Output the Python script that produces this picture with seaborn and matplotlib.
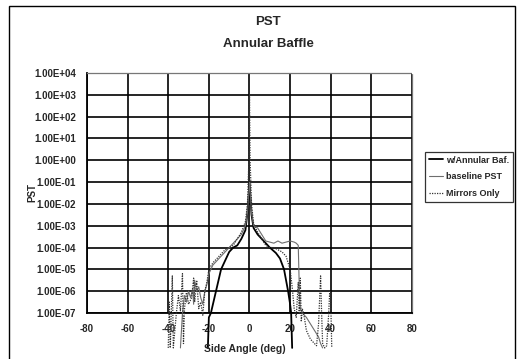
import numpy as np
import pandas as pd
import seaborn as sns
import matplotlib.pyplot as plt
from matplotlib.patches import Rectangle
from matplotlib.ticker import FixedLocator, FuncFormatter, NullLocator

# values (PST as log10 exponents, angle in deg)
baf_angle = [-20.5, -20, -19, -18, -16, -14, -12, -10, -8, -6, -4, -2, -1, 0,
             1, 2, 4, 6, 8, 10, 13, 15, 17, 18, 19, 20, 20.5, 21]
baf_log10 = [-8.6, -7.2, -7.0, -6.6, -5.8, -5.0, -4.6, -4.2, -4.0, -3.9, -3.6, -3.2, -2.4, -1.0,
             -2.5, -3.1, -3.4, -3.6, -3.8, -4.0, -4.25, -4.5, -5.0, -5.5, -6.0, -6.6, -7.0, -8.6]

base_angle = [-34, -33, -32, -31, -30, -29, -28, -27.5, -27, -26, -25, -24, -23, -22, -21,
              -20, -18, -16, -14, -12, -10, -8, -6, -4, -2, -1, 0, 1, 2, 4, 6, 8, 10,
              12, 14, 16, 18, 20, 22, 23, 24, 24.5, 25, 26, 28, 30, 32, 34, 35, 36]
base_log10 = [-8.6, -7.0, -6.2, -6.5, -6.0, -6.3, -5.9, -6.6, -5.5, -6.0, -5.8, -6.3, -6.6, -6.0, -5.7,
              -5.2, -4.8, -4.6, -4.4, -4.2, -4.0, -3.8, -3.6, -3.4, -3.0, -2.4, -1.0, -2.4, -3.0, -3.1, -3.4, -3.7, -3.75,
              -3.8, -3.7, -3.8, -3.75, -3.7, -3.75, -3.8, -3.9, -5.8, -6.8, -7.0, -7.2, -7.5, -7.8, -8.1, -8.4, -8.6]

mir_angle = [-40, -39.5, -39, -38, -37.5, -36, -35, -34, -33, -32.5, -32, -31, -30, -28.5,
             -27.5, -27, -26, -25, -24, -23, -22, -21, -20, -18, -16, -14, -12, -10, -8,
             -6, -4, -2, -1, -0.3, 0, 0.3, 1, 2, 4, 6, 8, 10, 12, 14, 16, 18, 20, 21,
             22, 23, 23.5, 24, 24.5, 25, 25.5, 26, 27, 28, 30, 32, 33, 34, 35, 35.5,
             36, 37, 38, 39, 39.5, 40, 40.5]
mir_log10 = [-8.6, -6.5, -8.6, -5.3, -8.6, -7.0, -6.2, -6.9, -5.2, -8.4, -6.8, -6.0, -6.6, -6.3,
             -5.4, -6.5, -5.5, -6.8, -6.5, -7.1, -6.0, -5.6, -5.0, -4.7, -4.5, -4.3, -4.1, -4.0, -3.9,
             -3.6, -3.3, -2.8, -2.0, 0.0, 3.0, 0.0, -2.0, -2.9, -3.3, -3.6, -3.9, -4.0, -4.0, -4.1, -4.2, -4.4, -5.0, -5.8,
             -6.8, -7.2, -6.4, -5.6, -7.0, -5.4, -7.4, -6.8, -7.2, -7.8, -8.2, -8.4, -8.5, -7.5, -5.3, -7.0,
             -8.4, -8.6, -8.5, -7.0, -6.0, -6.5, -8.6]

series_names = ["w/Annular Baf.", "baseline PST", "Mirrors Only"]
x_ticks = [-80, -60, -40, -20, 0, 20, 40, 60, 80]
y_exponents = list(range(-7, 5))

sns.set_style("white")
plt.rcParams["font.family"] = ["Liberation Sans", "DejaVu Sans"]
plt.rcParams["font.weight"] = "bold"
plt.rcParams["axes.unicode_minus"] = False

fig = plt.figure(figsize=(5.31, 3.59), dpi=100)
ax = fig.add_axes([87 / 531, 1 - 313 / 359, 325 / 531, 240 / 359])

styles = [
    dict(color="black", lw=1.3, ls="-"),
    dict(color="#6e6e6e", lw=0.8, ls="-"),
    dict(color="#333333", lw=0.9, ls=(0, (1, 1))),
]
data = [(baf_angle, baf_log10), (base_angle, base_log10), (mir_angle, mir_log10)]

for name, (ang, lg), st in zip(series_names, data, styles):
    df = pd.DataFrame({"angle": ang, "pst": 10.0 ** np.array(lg)})
    sns.lineplot(data=df, x="angle", y="pst", ax=ax, sort=False, estimator=None,
                 label=name, clip_on=False, zorder=3, **st)

ax.set_yscale("log")
ax.set_ylim(1e-7, 1e4)
ax.set_xlim(-80, 80)
ax.yaxis.set_major_locator(FixedLocator([10.0 ** e for e in y_exponents]))
ax.yaxis.set_minor_locator(NullLocator())
ax.yaxis.set_major_formatter(FuncFormatter(lambda v, p: "%.2E" % v))
ax.set_xticks(x_ticks)
ax.set_xticklabels([str(t) for t in x_ticks])

ax.grid(True, color="black", lw=1.2)
ax.set_axisbelow(True)
for s in ["left", "bottom"]:
    ax.spines[s].set_color("black")
    ax.spines[s].set_linewidth(1.3)
for s in ["top", "right"]:
    ax.spines[s].set_color("#777777")
    ax.spines[s].set_linewidth(0.9)
    ax.spines[s].set_linestyle((0, (1, 1)))

ax.tick_params(axis="y", length=3, width=1, pad=5, labelsize=7)
ax.tick_params(axis="x", length=0, pad=8, labelsize=7)
for lbl in ax.get_xticklabels() + ax.get_yticklabels():
    lbl.set_fontweight("bold")

ax.set_xlabel("")
ax.set_ylabel("")
fig.text(32 / 531, 1 - 193 / 359, "PST", rotation=90, ha="center", va="center",
         fontsize=7, fontweight="bold")
fig.text(245 / 531, 1 - 349 / 359, "Side Angle (deg)", ha="center", va="center",
         fontsize=7.5, fontweight="bold")
fig.text(268 / 531, 1 - 22 / 359, "PST", ha="center", va="center",
         fontsize=9.5, fontweight="bold")
fig.text(268 / 531, 1 - 44 / 359, "Annular Baffle", ha="center", va="center",
         fontsize=9.5, fontweight="bold")

ax.get_legend().remove()
handles, labels = ax.get_legend_handles_labels()
leg = fig.legend(handles, labels, loc="upper left",
                 bbox_to_anchor=(425 / 531, 1 - 152 / 359),
                 frameon=True, fancybox=False, fontsize=6.5, handlelength=1.6,
                 handletextpad=0.3, borderpad=0.4, labelspacing=0.85, borderaxespad=0)
leg.get_frame().set_edgecolor("black")
leg.get_frame().set_linewidth(0.9)
for t in leg.get_texts():
    t.set_fontweight("bold")

fig.patches.append(Rectangle((9 / 531, -0.1), 506 / 531, 1.1 - 6 / 359,
                             transform=fig.transFigure, fill=False,
                             edgecolor="black", lw=1.0, zorder=0))

fig.savefig("out.png", dpi=100)
